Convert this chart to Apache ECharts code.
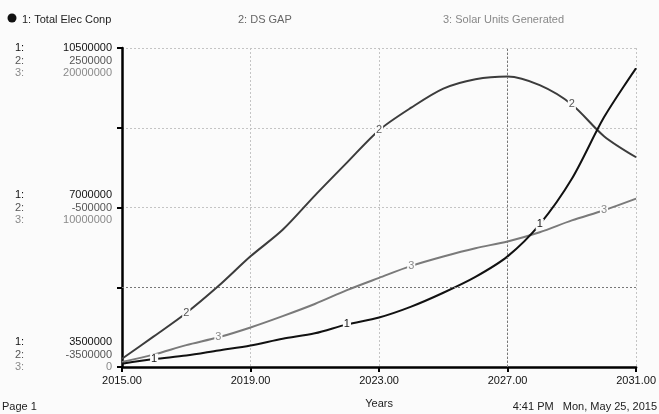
<!DOCTYPE html>
<html>
<head>
<meta charset="utf-8">
<script src="https://cdn.jsdelivr.net/npm/echarts@6/dist/echarts.min.js"></script>
<style>
html,body{margin:0;padding:0;background:#fbfbfb;}
#chart{width:659px;height:414px;}
</style>
</head>
<body>
<div id="chart"></div>
<script>
// 年份
var years = [2015,2016,2017,2018,2019,2020,2021,2022,2023,2024,2025,2026,2027,2028,2029,2030,2031];
// 1: Total Elec Conp
var elecConp = [3571000,3674000,3750000,3863000,3972000,4120000,4239000,4435000,4587000,4826000,5130000,5478000,5928000,6630000,7630000,8978000,10059000];
// 2: DS GAP
var dsGap = [-3345000,-2920000,-2484000,-1978000,-1419000,-919000,-276000,344000,954000,1377000,1736000,1913000,1965000,1801000,1438000,842000,445000];
// 3: Solar Units Generated
var solarUnits = [310000,790000,1370000,1860000,2480000,3190000,3950000,4820000,5590000,6340000,6930000,7450000,7870000,8450000,9190000,9830000,10560000];
var seriesNames = ['Total Elec Conp','DS GAP','Solar Units Generated'];
// 三个纵轴的刻度范围
var axisMin = [3500000,-3500000,0];
var axisMax = [10500000,2500000,20000000];
// 曲线上编号出现的年份
var tagYears = [[2016,2022,2028],[2017,2023,2029],[2018,2024,2030]];
var lineColors = ['#111111','#3c3c3c','#7a7a7a'];
var textColors = ['#111111','#555555','#8a8a8a'];
var fontFam = '"Liberation Sans Narrow","Liberation Sans",Arial,sans-serif';

function buildData(vals, idx){
	var arr = [];
	for(var i=0;i<years.length;i++){
		var item = {value:[years[i], vals[i]]};
		if(tagYears[idx].indexOf(years[i]) >= 0){
			item.label = {
				show:true, position:'inside', formatter:String(idx+1),
				color:textColors[idx], backgroundColor:'#fbfbfb',
				fontSize:11, fontFamily:fontFam, padding:[0,1]
			};
		}
		arr.push(item);
	}
	return arr;
}

var chart = echarts.init(document.getElementById('chart'));
var step0 = (axisMax[0]-axisMin[0])/4;

// 左侧三行刻度文字
function leftLabel(v){
	var k = Math.round((v-axisMin[0])/step0);
	if(k%2 !== 0) return '';
	var rows = [];
	for(var j=0;j<3;j++){
		var val = axisMin[j] + (axisMax[j]-axisMin[j])*k/4;
		rows.push('{n'+j+'|'+(j+1)+':}{v'+j+'|'+val+'}');
	}
	if(k === 4) rows = ['{e| }','{e| }'].concat(rows);
	if(k === 0) rows = rows.concat(['{e| }','{e| }']);
	return rows.join('\n');
}
var rich = {e:{width:97,lineHeight:12.5}};
for(var j=0;j<3;j++){
	rich['n'+j] = {width:22,align:'left',color:textColors[j],fontSize:11,fontFamily:fontFam,lineHeight:12.5};
	rich['v'+j] = {width:75,align:'right',color:textColors[j],fontSize:11,fontFamily:fontFam,lineHeight:12.5};
}

var yAxes = [];
for(var j=0;j<3;j++){
	yAxes.push({
		type:'value', min:axisMin[j], max:axisMax[j], interval:(axisMax[j]-axisMin[j])/4,
		show: j===0,
		axisLine:{show:true,onZero:false,lineStyle:{color:'#000',width:2.5}},
		axisTick:{show:true,length:5,lineStyle:{color:'#000',width:2}},
		splitLine:{show:j===0,lineStyle:{color:'#c4c4c4',type:[2,2],width:1}},
		axisLabel:{show:j===0,margin:10,formatter:leftLabel,rich:rich,lineHeight:12.5}
	});
}

var datas = [elecConp, dsGap, solarUnits];
var series = [];
for(var j=0;j<3;j++){
	var s = {
		name:seriesNames[j], type:'line', yAxisIndex:j,
		data:buildData(datas[j], j),
		smooth:0.3, symbol:'circle', symbolSize:1, showSymbol:true,
		itemStyle:{color:'transparent'},
		lineStyle:{color:lineColors[j],width:2},
		z: 3-j
	};
	if(j===0){
		s.markLine = {
			silent:true, symbol:'none', label:{show:false},
			lineStyle:{color:'#777',type:[2,2],width:1},
			data:[{xAxis:2027},{yAxis:axisMin[0]+step0}]
		};
	}
	series.push(s);
}

var option = {
	backgroundColor:'#fbfbfb',
	animation:false,
	grid:{left:122,right:14,top:48,bottom:44},
	xAxis:{
		type:'value', min:2015, max:2031, interval:4,
		name:'Years', nameLocation:'middle', nameGap:31,
		nameTextStyle:{color:'#222',fontSize:11,fontFamily:fontFam},
		axisLine:{onZero:false,lineStyle:{color:'#000',width:2.5}},
		axisTick:{length:5,lineStyle:{color:'#000',width:2}},
		splitLine:{show:true,lineStyle:{color:'#c4c4c4',type:[2,2],width:1}},
		axisLabel:{color:'#111',fontSize:11,fontFamily:fontFam,margin:8,
			formatter:function(v){return v.toFixed(2);}}
	},
	yAxis:yAxes,
	series:series,
	graphic:[
		{type:'circle',shape:{cx:12,cy:18,r:4.5},style:{fill:'#111'}},
		{type:'text',left:22,top:14,style:{text:'1: '+seriesNames[0],fill:'#222',fontSize:11,fontFamily:fontFam}},
		{type:'text',left:238,top:14,style:{text:'2: '+seriesNames[1],fill:'#666',fontSize:11,fontFamily:fontFam}},
		{type:'text',left:443,top:14,style:{text:'3: '+seriesNames[2],fill:'#888',fontSize:11,fontFamily:fontFam}},
		{type:'text',left:2,top:401,style:{text:'Page 1',fill:'#222',fontSize:11,fontFamily:fontFam}},
		{type:'text',right:2,top:401,style:{text:'4:41 PM   Mon, May 25, 2015',fill:'#222',fontSize:11,fontFamily:fontFam}}
	]
};
chart.setOption(option);
</script>
</body>
</html>
